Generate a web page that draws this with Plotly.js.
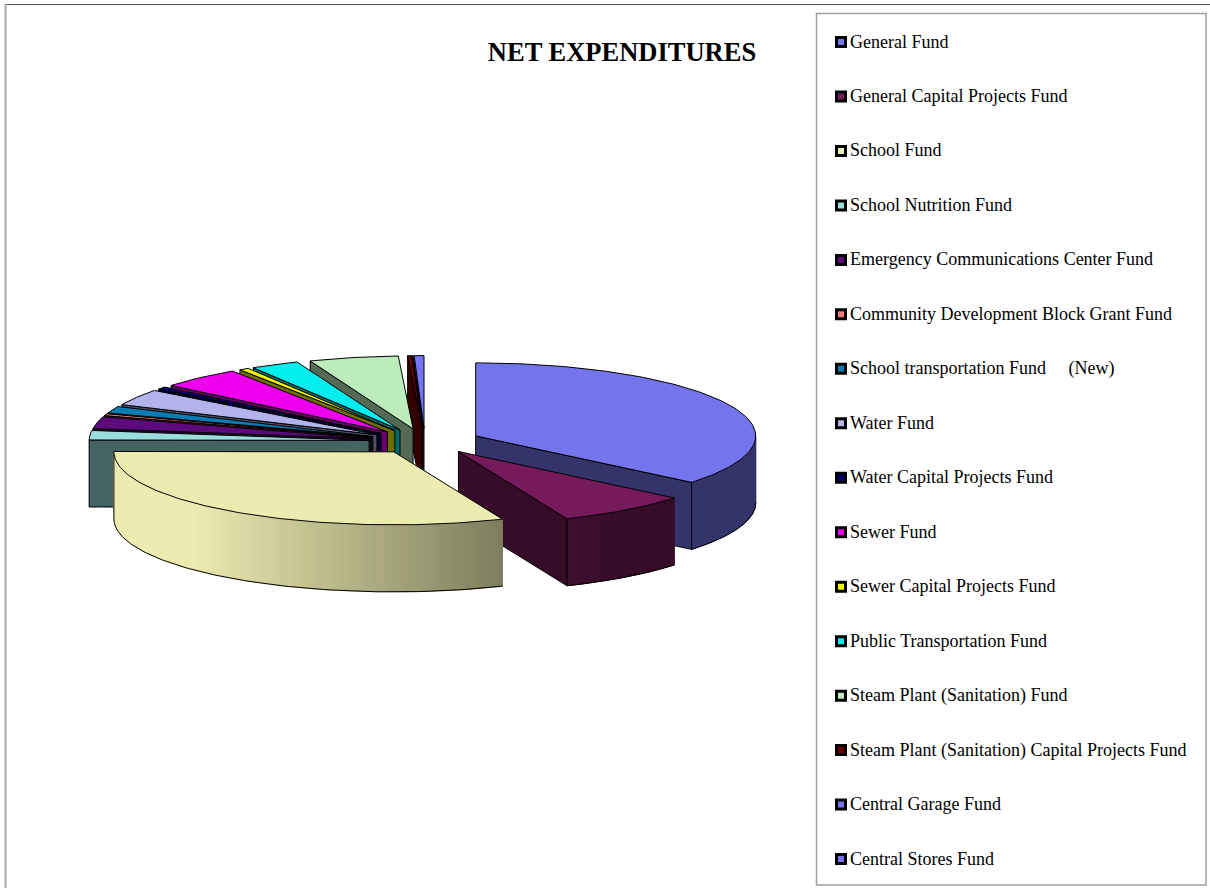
<!DOCTYPE html>
<html>
<head>
<meta charset="utf-8">
<script src="https://cdn.plot.ly/plotly-3.0.1.min.js"></script>
<style>html,body{margin:0;padding:0;background:#fff}#chart{width:1210px;height:888px}</style>
</head>
<body>
<div id="chart"></div>
<script>
var categories = [
  "General Fund",
  "General Capital Projects Fund",
  "School Fund",
  "School Nutrition Fund",
  "Emergency Communications Center Fund",
  "Community Development Block Grant Fund",
  "School transportation Fund\u00a0\u00a0\u00a0\u00a0 (New)",
  "Water Fund",
  "Water Capital Projects Fund",
  "Sewer Fund",
  "Sewer Capital Projects Fund",
  "Public Transportation Fund",
  "Steam Plant (Sanitation) Fund",
  "Steam Plant (Sanitation) Capital Projects Fund",
  "Central Garage Fund",
  "Central Stores Fund"
];
// share of net expenditures, percent
var shares = [35.94, 7.67, 31.39, 2.08, 2.64, 0.42, 1.53, 3.61, 0.56, 4.72, 0.56, 2.78, 5.14, 0.22, 0.06, 0.56];
var colors = ["#7474ec","#771a5b","#ecebb0","#99dddd","#5c0a7c","#f47a78","#0a7cb4","#b4b4ec","#00006b","#ee00ee","#f4f400","#00eeee","#bcecbc","#6e0000","#7474ec","#7474f4"];

var title = "NET EXPENDITURES";
var CX = 425, CY = 441.3, RX = 280, RY = 73, EXPLODE_X = 0.2, EXPLODE_Y = 0.174, DEPTH = 67;

function rad(d){ return d * Math.PI / 180; }
function shade(hex, f){
  var n = parseInt(hex.slice(1), 16);
  return "rgb(" + Math.round((n>>16&255)*f) + "," + Math.round((n>>8&255)*f) + "," + Math.round((n&255)*f) + ")";
}
function wallFactor(deg){
  var s = Math.sin(rad(deg));
  return Math.max(0.45, Math.min(1, 1 - (s + 0.72) * 0.423));
}
function poly(xs, ys, fill, line){
  return {type:"scatter", mode:"lines", x:xs, y:ys, fill:"toself", fillcolor:fill,
          line:{color:line, width:1}, hoverinfo:"skip", showlegend:false};
}

var total = shares.reduce(function(a,b){return a+b;}, 0);
var wedges = [], acc = 0;
shares.forEach(function(v, i){
  var a0 = acc, a1 = acc + v / total * 360; acc = a1;
  var mid = rad((a0 + a1) / 2);
  wedges.push({i:i, a0:a0, a1:a1,
    ox: CX + RX * EXPLODE_X * Math.sin(mid),
    oy: CY - RY * EXPLODE_Y * Math.cos(mid)});
});
function px(w, d){ return w.ox + RX * Math.sin(rad(d)); }
function py(w, d){ return w.oy - RY * Math.cos(rad(d)); }

function drawWedge(w){
  var out = [], c = colors[w.i];
  // radial cut faces that look toward the viewer
  [w.a0, w.a1].forEach(function(d, k){
    var normal = k === 0 ? d - 90 : d + 90;
    if (Math.cos(rad(normal)) < 0) {
      var xs = [w.ox, px(w,d), px(w,d), w.ox, w.ox];
      var ys = [w.oy, py(w,d), py(w,d)+DEPTH, w.oy+DEPTH, w.oy];
      out.push(poly(xs, ys, shade(c, 0.45), "#000"));
    }
  });
  // outer rim, in short shaded strips
  var lo = Math.max(w.a0, 90), hi = Math.min(w.a1, 270);
  if (hi > lo) {
    var step = 1, d, rx = [], ry = [];
    for (d = lo; d < hi; d += step) {
      var e = Math.min(d + step, hi);
      var col = shade(c, wallFactor((d + e) / 2));
      out.push(poly([px(w,d),px(w,e),px(w,e),px(w,d),px(w,d)],
                    [py(w,d),py(w,e),py(w,e)+DEPTH,py(w,d)+DEPTH,py(w,d)], col, col));
    }
    for (d = lo; d <= hi + 1e-6; d += step) { rx.push(px(w,Math.min(d,hi))); ry.push(py(w,Math.min(d,hi))+DEPTH); }
    rx.push(px(w,hi)); ry.push(py(w,hi)+DEPTH);
    out.push({type:"scatter", mode:"lines", x:rx, y:ry, line:{color:"#000",width:1}, hoverinfo:"skip", showlegend:false});
    out.push({type:"scatter", mode:"lines", x:[px(w,hi),px(w,hi)], y:[py(w,hi),py(w,hi)+DEPTH], line:{color:"#000",width:1}, hoverinfo:"skip", showlegend:false});
  }
  // top surface
  var tx = [w.ox], ty = [w.oy];
  var n = Math.max(2, Math.ceil(w.a1 - w.a0));
  for (var j = 0; j <= n; j++) {
    var a = w.a0 + (w.a1 - w.a0) * j / n;
    tx.push(px(w,a)); ty.push(py(w,a));
  }
  tx.push(w.ox); ty.push(w.oy);
  out.push(poly(tx, ty, c, "#000"));
  return out;
}

var traces = [];
var order = [];
for (var k = wedges.length - 1; k >= 3; k--) order.push(k);
order.push(0, 1, 2);
order.forEach(function(k){ traces = traces.concat(drawWedge(wedges[k])); });

// legend column
var LEG_X = 841, LEG_TEXT_X = 850, LEG_TOP = 42, LEG_STEP = 54.47;
var legY = categories.map(function(_, i){return LEG_TOP + i * LEG_STEP;});
traces.push({type:"scatter", mode:"markers",
  x: categories.map(function(){return LEG_X;}), y: legY,
  marker:{symbol:"square", size:9, color:colors, line:{color:"#000", width:3}},
  hoverinfo:"skip", showlegend:false});
traces.push({type:"scatter", mode:"text",
  x: categories.map(function(){return LEG_TEXT_X;}), y: legY.map(function(v){return v + 1;}),
  text: categories, textposition:"middle right", cliponaxis:false,
  textfont:{family:"Liberation Serif", size:18, color:"#000"},
  hoverinfo:"text", showlegend:false});

var layout = {
  width:1210, height:888, margin:{l:0,r:0,t:0,b:0},
  paper_bgcolor:"#fff", plot_bgcolor:"#fff", showlegend:false,
  title:{text:title, font:{family:"Liberation Serif", size:26.5, color:"#000", weight:700},
         x:622/1210, xanchor:"center", y:1-52/888, yanchor:"middle"},
  xaxis:{range:[0,1210], visible:false, fixedrange:true},
  yaxis:{range:[888,0], visible:false, fixedrange:true},
  shapes:[
    {type:"line", x0:5, x1:1210, y0:4.5, y1:4.5, line:{color:"#555", width:1}},
    {type:"line", x0:5.5, x1:5.5, y0:4, y1:888, line:{color:"#aaa", width:2}},
    {type:"rect", x0:816.5, x1:1206, y0:13.5, y1:885, line:{color:"#a0a0a0", width:1.5}, fillcolor:"rgba(0,0,0,0)"}
  ]
};
Plotly.newPlot("chart", traces, layout, {displayModeBar:false, staticPlot:true});
</script>
</body>
</html>
